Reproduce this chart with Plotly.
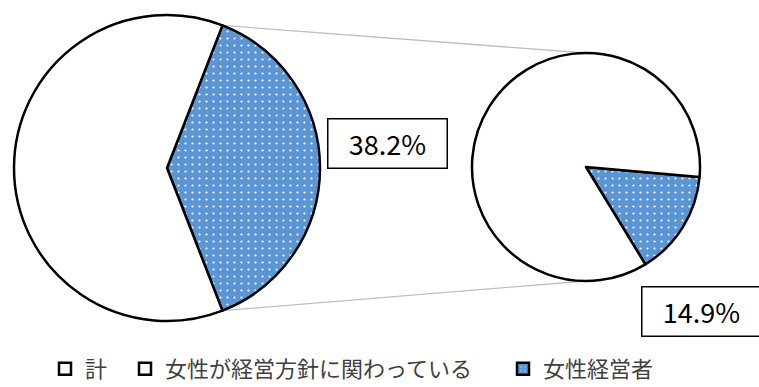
import math
import plotly.graph_objects as go

# Data
legend_labels = ["計", "女性が経営方針に関わっている", "女性経営者"]
main_labels = ["女性が経営方針に関わっている", "その他"]
main_values = [38.2, 61.8]
sub_labels = ["女性経営者", "その他"]
sub_values = [14.9, 85.1]

# Styling
W, H = 759, 387
BLUE = "#5B95D3"
WHITE = "#FFFFFF"
EDGE = "#000000"
TEXT = "#404040"
FONT = "Noto Sans CJK JP"

# Pie geometry in pixels: centre x, centre y, radius
main_geo = (167, 168, 153)
sub_geo = (586, 167, 114)
main_rotation = 90 - main_values[0] * 3.6 / 2   # highlighted slice centred at 3 o'clock
sub_rotation = 95


def domain(geo):
    cx, cy, r = geo
    return dict(x=[(cx - r) / W, (cx + r) / W],
                y=[1 - (cy + r) / H, 1 - (cy - r) / H])


def point(geo, angle_deg):
    # angle measured clockwise from 12 o'clock, returned in paper coords
    cx, cy, r = geo
    a = math.radians(angle_deg)
    return (cx + r * math.sin(a)) / W, 1 - (cy - r * math.cos(a)) / H


def dotted(shapes, bgs, size=7, solidity=0.08):
    return dict(shape=shapes, fgcolor=WHITE, bgcolor=bgs, size=size, solidity=solidity)


fig = go.Figure()
for labels, values, rot, geo in [(main_labels, main_values, main_rotation, main_geo),
                                 (sub_labels, sub_values, sub_rotation, sub_geo)]:
    fig.add_trace(go.Pie(
        labels=labels, values=values, sort=False, direction="clockwise",
        rotation=rot, domain=domain(geo), textinfo="none",
        showlegend=False, hoverinfo="label+percent",
        marker=dict(colors=[BLUE, WHITE], line=dict(color=EDGE, width=2.5),
                    pattern=dotted([".", ""], [BLUE, WHITE])),
    ))

# Legend entries, each in its own legend box
legend_fill = [WHITE, WHITE, BLUE]
legend_pattern = ["", "", "."]
legend_ids = ["legend", "legend2", "legend3"]
legend_x = [45, 125, 503]
for name, col, pat, lid in zip(legend_labels, legend_fill, legend_pattern, legend_ids):
    fig.add_trace(go.Bar(
        x=[None], y=[None], name=name, showlegend=True, legend=lid,
        marker=dict(color=col, line=dict(color=EDGE, width=2.5),
                    pattern=dict(shape=pat, fgcolor=WHITE, size=5, solidity=0.15)),
    ))

# Connector lines from the highlighted slice edges to the secondary pie
start_a = main_rotation
end_a = main_rotation + main_values[0] * 3.6
x0, y0 = point(main_geo, start_a)
x1, y1 = point(main_geo, end_a)
tx, ty = point(sub_geo, 0)
bx, by = point(sub_geo, 180)
for (ax, ay), (bx_, by_) in [((x0, y0), (tx, ty)), ((x1, y1), (bx, by))]:
    fig.add_shape(type="line", xref="paper", yref="paper", x0=ax, y0=ay, x1=bx_, y1=by_,
                  line=dict(color="#BFBFBF", width=1.3), layer="below")

# Value labels in boxes
boxes = [(main_values[0], 387.5, 143.5), (sub_values[0], 701, 311)]
for v, px, py in boxes:
    fig.add_annotation(
        x=px / W, y=1 - py / H, xref="paper", yref="paper",
        text=f"{v:.1f}%", showarrow=False, xanchor="center", yanchor="middle",
        width=116, height=46, bgcolor=WHITE, bordercolor=EDGE, borderwidth=1.5,
        font=dict(family=FONT, size=27, color="#000000"),
    )

legend_common = dict(orientation="h", xanchor="left", y=1 - 369 / H, yanchor="middle",
                     font=dict(family=FONT, size=22, color=TEXT), itemwidth=30,
                     bgcolor="rgba(0,0,0,0)")
fig.update_layout(
    width=W, height=H, margin=dict(l=0, r=0, t=0, b=0, autoexpand=False),
    paper_bgcolor=WHITE, plot_bgcolor=WHITE,
    xaxis=dict(visible=False), yaxis=dict(visible=False),
    **{lid: dict(x=lx / W, **legend_common) for lid, lx in zip(legend_ids, legend_x)},
)

fig.write_html("out.html")
